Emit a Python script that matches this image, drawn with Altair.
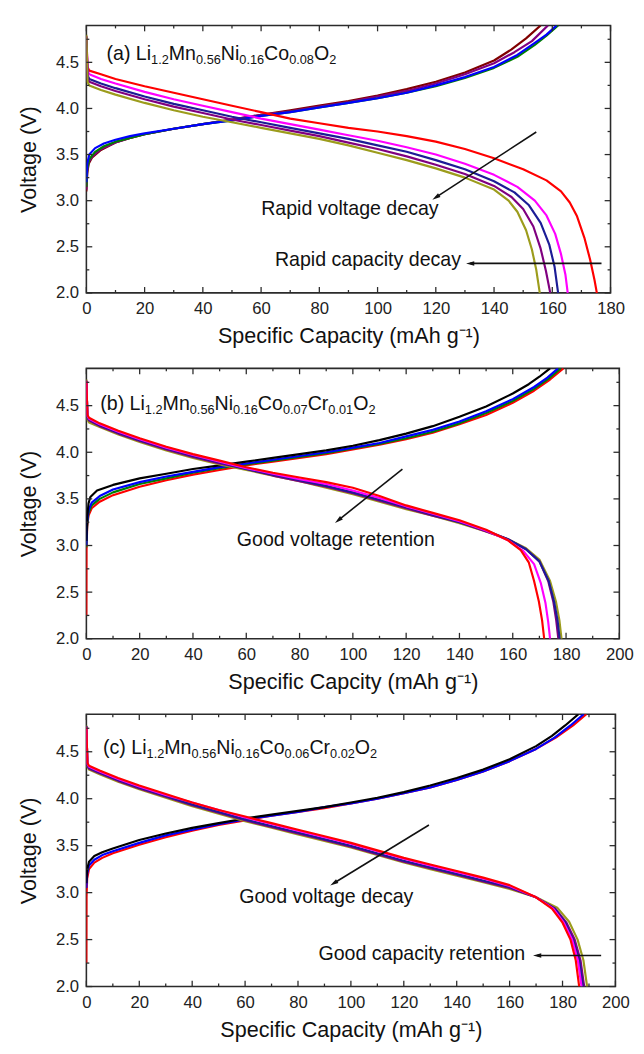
import math
import altair as alt
import pandas as pd

FONT = "Liberation Sans"
FRAME = "#2b2b2b"
INK = "#111111"
YMIN, YMAX = 2.0, 4.9
Y_MAJOR = [2.0, 2.5, 3.0, 3.5, 4.0, 4.5]
Y_MINOR = [2.25, 2.75, 3.25, 3.75, 4.25, 4.75]

RED = "#ff0000"
MAGENTA = "#ff00ff"
NAVY = "#1c1c96"
BLUE = "#0000ff"
PURPLE = "#800080"
OLIVE = "#9c9c1c"
GREEN = "#008000"
WINE = "#800000"
BLACK = "#000000"

# ---------------- panel (a) ----------------
a_x_major = [0, 20, 40, 60, 80, 100, 120, 140, 160, 180]
a_x_minor = [10, 30, 50, 70, 90, 110, 130, 150, 170]

a_d_red_q = [0, 0.4, 1, 5, 10, 20, 30, 40, 50, 60, 70, 80, 90, 100, 110, 120, 130, 140, 150, 158, 163, 166, 168.5, 171, 173, 174.5, 175.3]
a_d_red_v = [4.78, 4.45, 4.41, 4.37, 4.32, 4.24, 4.17, 4.10, 4.03, 3.96, 3.89, 3.84, 3.79, 3.75, 3.70, 3.64, 3.56, 3.46, 3.34, 3.22, 3.10, 2.98, 2.83, 2.60, 2.36, 2.14, 2.00]
a_d_mag_q = [0, 0.4, 1, 5, 10, 20, 30, 40, 50, 60, 70, 80, 90, 100, 110, 120, 130, 140, 148, 154, 158, 161, 163, 164.5, 165.3]
a_d_mag_v = [4.78, 4.41, 4.37, 4.32, 4.27, 4.18, 4.10, 4.03, 3.96, 3.89, 3.83, 3.77, 3.71, 3.65, 3.58, 3.50, 3.40, 3.28, 3.15, 3.00, 2.84, 2.64, 2.42, 2.20, 2.00]
a_d_navy_q = [0, 0.4, 1, 5, 10, 20, 30, 40, 50, 60, 70, 80, 90, 100, 110, 120, 130, 140, 147, 152, 156, 159, 160.8, 162]
a_d_navy_v = [4.78, 4.36, 4.32, 4.27, 4.22, 4.13, 4.05, 3.98, 3.91, 3.85, 3.79, 3.73, 3.67, 3.60, 3.53, 3.44, 3.34, 3.21, 3.09, 2.95, 2.76, 2.52, 2.28, 2.00]
a_d_purple_q = [0, 0.4, 1, 5, 10, 20, 30, 40, 50, 60, 70, 80, 90, 100, 110, 120, 130, 140, 146, 150, 153.5, 156, 157.8, 159.3]
a_d_purple_v = [4.78, 4.33, 4.29, 4.24, 4.19, 4.10, 4.02, 3.95, 3.88, 3.82, 3.76, 3.70, 3.63, 3.56, 3.48, 3.39, 3.29, 3.16, 3.04, 2.91, 2.72, 2.48, 2.24, 2.00]
a_d_olive_q = [0, 0.4, 1, 5, 10, 20, 30, 40, 50, 60, 70, 80, 90, 100, 110, 120, 130, 140, 145, 148, 151, 153, 154.5, 155.7]
a_d_olive_v = [4.80, 4.29, 4.25, 4.20, 4.15, 4.06, 3.98, 3.91, 3.85, 3.79, 3.73, 3.67, 3.60, 3.52, 3.44, 3.35, 3.25, 3.12, 3.00, 2.88, 2.68, 2.47, 2.25, 2.00]

a_c_wine_q = [0, 0.3, 0.8, 2, 5, 10, 15, 20, 30, 40, 50, 60, 70, 80, 90, 100, 110, 120, 130, 140, 146, 151, 156]
a_c_wine_v = [3.10, 3.30, 3.40, 3.47, 3.55, 3.63, 3.68, 3.72, 3.78, 3.83, 3.88, 3.93, 3.98, 4.03, 4.08, 4.14, 4.21, 4.29, 4.39, 4.52, 4.64, 4.76, 4.90]
a_c_purple_q = [0, 0.3, 0.8, 2, 5, 10, 15, 20, 30, 40, 50, 60, 70, 80, 90, 100, 110, 120, 130, 140, 147, 153, 158.5]
a_c_purple_v = [3.12, 3.32, 3.42, 3.48, 3.56, 3.63, 3.68, 3.72, 3.78, 3.83, 3.88, 3.93, 3.97, 4.02, 4.07, 4.13, 4.19, 4.27, 4.37, 4.49, 4.61, 4.73, 4.90]
a_c_green_q = [0, 0.3, 1, 3, 6, 10, 15, 20, 30, 40, 50, 60, 70, 80, 90, 100, 110, 120, 130, 140, 148, 154, 158, 162]
a_c_green_v = [3.15, 3.35, 3.45, 3.53, 3.59, 3.64, 3.68, 3.72, 3.78, 3.83, 3.87, 3.92, 3.96, 4.01, 4.06, 4.11, 4.17, 4.24, 4.33, 4.44, 4.56, 4.69, 4.79, 4.90]
a_c_blue_q = [0, 0.3, 1, 3, 6, 10, 15, 20, 30, 40, 50, 60, 70, 80, 90, 100, 110, 120, 130, 140, 148, 154, 158, 161.5]
a_c_blue_v = [3.20, 3.40, 3.50, 3.57, 3.62, 3.66, 3.70, 3.73, 3.78, 3.83, 3.87, 3.92, 3.96, 4.01, 4.06, 4.11, 4.17, 4.25, 4.34, 4.45, 4.58, 4.71, 4.80, 4.90]

a_label = ["(a) Li", "1.2", "Mn", "0.56", "Ni", "0.16", "Co", "0.08", "O", "2"]
a_text = ["Rapid voltage decay", "Rapid capacity decay"]
a_text_q = [90.5, 96.7]
a_text_v = [2.91, 2.36]
a_arrow_q1 = [154.5, 176.9]
a_arrow_v1 = [3.745, 2.32]
a_arrow_q2 = [120.0, 131.8]
a_arrow_v2 = [3.035, 2.32]

# ---------------- panel (b) ----------------
bc_x_major = [0, 20, 40, 60, 80, 100, 120, 140, 160, 180, 200]
bc_x_minor = [10, 30, 50, 70, 90, 110, 130, 150, 170, 190]

b_d_red_q = [0, 0.4, 1, 5, 12, 20, 30, 40, 50, 60, 70, 80, 90, 100, 110, 120, 130, 140, 150, 158, 163, 166, 168, 169.8, 171, 171.8]
b_d_red_v = [4.76, 4.40, 4.37, 4.31, 4.23, 4.15, 4.06, 3.98, 3.91, 3.84, 3.78, 3.73, 3.68, 3.62, 3.53, 3.43, 3.35, 3.27, 3.17, 3.06, 2.95, 2.82, 2.62, 2.40, 2.20, 2.00]
b_d_mag_q = [0, 0.4, 1, 5, 12, 20, 30, 40, 50, 60, 70, 80, 90, 100, 110, 120, 130, 140, 150, 158, 164, 168, 170.5, 172.3, 173.3, 174]
b_d_mag_v = [4.76, 4.39, 4.36, 4.30, 4.22, 4.14, 4.05, 3.97, 3.90, 3.83, 3.77, 3.71, 3.66, 3.59, 3.51, 3.42, 3.34, 3.26, 3.16, 3.06, 2.94, 2.80, 2.60, 2.38, 2.18, 2.00]
b_d_navy_q = [0, 0.4, 1, 5, 12, 20, 30, 40, 50, 60, 70, 80, 90, 100, 110, 120, 130, 140, 150, 158, 165, 170, 173.5, 175.5, 176.8, 177.6]
b_d_navy_v = [4.76, 4.38, 4.35, 4.29, 4.21, 4.13, 4.04, 3.96, 3.89, 3.82, 3.76, 3.70, 3.64, 3.57, 3.49, 3.41, 3.33, 3.25, 3.16, 3.07, 2.96, 2.83, 2.62, 2.40, 2.20, 2.00]
b_d_purple_q = [0, 0.4, 1, 5, 12, 20, 30, 40, 50, 60, 70, 80, 90, 100, 110, 120, 130, 140, 150, 158, 165, 170, 173.3, 175.2, 176.3, 177.1]
b_d_purple_v = [4.77, 4.37, 4.34, 4.28, 4.20, 4.12, 4.03, 3.95, 3.88, 3.82, 3.75, 3.69, 3.63, 3.56, 3.48, 3.40, 3.32, 3.25, 3.15, 3.07, 2.96, 2.83, 2.62, 2.40, 2.20, 2.00]
b_d_olive_q = [0, 0.4, 1, 5, 12, 20, 30, 40, 50, 60, 70, 80, 90, 100, 110, 120, 130, 140, 150, 158, 165, 170, 174, 176.2, 177.5, 178.3]
b_d_olive_v = [4.78, 4.35, 4.32, 4.27, 4.19, 4.11, 4.02, 3.94, 3.87, 3.81, 3.75, 3.69, 3.62, 3.55, 3.47, 3.39, 3.32, 3.24, 3.15, 3.07, 2.97, 2.85, 2.62, 2.40, 2.20, 2.00]

b_c_red_q = [0, 0.05, 0.3, 0.8, 2, 5, 10, 20, 30, 40, 50, 60, 70, 80, 90, 100, 110, 120, 130, 140, 150, 160, 168, 174, 179]
b_c_red_v = [2.25, 2.95, 3.20, 3.32, 3.40, 3.47, 3.54, 3.63, 3.70, 3.76, 3.81, 3.86, 3.90, 3.94, 3.98, 4.03, 4.08, 4.14, 4.21, 4.30, 4.40, 4.53, 4.66, 4.78, 4.90]
b_c_green_q = [0, 0.3, 0.8, 2, 5, 10, 20, 30, 40, 50, 60, 70, 80, 90, 100, 110, 120, 130, 140, 150, 160, 168, 173.5, 178]
b_c_green_v = [2.98, 3.22, 3.35, 3.43, 3.50, 3.57, 3.66, 3.72, 3.78, 3.83, 3.87, 3.91, 3.95, 3.99, 4.04, 4.09, 4.15, 4.22, 4.31, 4.42, 4.55, 4.68, 4.79, 4.90]
b_c_blue_q = [0, 0.3, 0.8, 2, 5, 10, 20, 30, 40, 50, 60, 70, 80, 90, 100, 110, 120, 130, 140, 150, 160, 168, 173, 177]
b_c_blue_v = [3.00, 3.25, 3.38, 3.46, 3.53, 3.60, 3.68, 3.74, 3.79, 3.84, 3.88, 3.92, 3.96, 4.00, 4.05, 4.10, 4.17, 4.24, 4.33, 4.44, 4.57, 4.70, 4.80, 4.90]
b_c_black_q = [0, 0.3, 0.8, 1.5, 4, 10, 20, 30, 40, 50, 60, 70, 80, 90, 100, 110, 120, 130, 140, 150, 160, 166, 170, 174]
b_c_black_v = [3.05, 3.30, 3.45, 3.52, 3.59, 3.65, 3.72, 3.77, 3.82, 3.86, 3.90, 3.94, 3.98, 4.02, 4.07, 4.13, 4.20, 4.28, 4.38, 4.49, 4.63, 4.73, 4.81, 4.90]

b_label = ["(b) Li", "1.2", "Mn", "0.56", "Ni", "0.16", "Co", "0.07", "Cr", "0.01", "O", "2"]
b_text = ["Good voltage retention"]
b_text_q = [93.6]
b_text_v = [3.06]
b_arrow_q1 = [118.6]
b_arrow_v1 = [3.82]
b_arrow_q2 = [94.5]
b_arrow_v2 = [3.27]

# ---------------- panel (c) ----------------
c_d_red_q = [0, 0.4, 1, 5, 12, 20, 30, 40, 50, 60, 70, 80, 90, 100, 110, 120, 130, 140, 150, 160, 170, 176, 180, 183, 185, 186.3]
c_d_red_v = [4.76, 4.38, 4.35, 4.30, 4.22, 4.14, 4.05, 3.96, 3.88, 3.81, 3.74, 3.67, 3.60, 3.53, 3.45, 3.37, 3.30, 3.23, 3.16, 3.08, 2.95, 2.83, 2.68, 2.50, 2.28, 2.00]
c_d_mag_q = [0, 0.4, 1, 5, 12, 20, 30, 40, 50, 60, 70, 80, 90, 100, 110, 120, 130, 140, 150, 160, 170, 176.5, 180.5, 183.6, 185.8, 187.2]
c_d_mag_v = [4.76, 4.37, 4.34, 4.29, 4.21, 4.13, 4.04, 3.96, 3.88, 3.80, 3.73, 3.66, 3.59, 3.52, 3.44, 3.36, 3.29, 3.22, 3.15, 3.07, 2.95, 2.83, 2.68, 2.50, 2.28, 2.00]
c_d_navy_q = [0, 0.4, 1, 5, 12, 20, 30, 40, 50, 60, 70, 80, 90, 100, 110, 120, 130, 140, 150, 160, 170, 177, 181, 184, 186.3, 187.7]
c_d_navy_v = [4.77, 4.36, 4.33, 4.28, 4.20, 4.12, 4.03, 3.94, 3.86, 3.78, 3.71, 3.64, 3.57, 3.50, 3.42, 3.34, 3.27, 3.20, 3.13, 3.06, 2.95, 2.83, 2.68, 2.50, 2.28, 2.00]
c_d_purple_q = [0, 0.4, 1, 5, 12, 20, 30, 40, 50, 60, 70, 80, 90, 100, 110, 120, 130, 140, 150, 160, 170, 177.3, 181.5, 184.6, 186.8, 188.2]
c_d_purple_v = [4.77, 4.35, 4.32, 4.27, 4.19, 4.11, 4.02, 3.93, 3.85, 3.77, 3.70, 3.63, 3.56, 3.49, 3.41, 3.33, 3.26, 3.19, 3.12, 3.05, 2.95, 2.83, 2.68, 2.50, 2.28, 2.00]
c_d_olive_q = [0, 0.4, 1, 5, 12, 20, 30, 40, 50, 60, 70, 80, 90, 100, 110, 120, 130, 140, 150, 160, 170, 178, 182.5, 185.7, 187.9, 189.3]
c_d_olive_v = [4.78, 4.34, 4.31, 4.26, 4.18, 4.10, 4.01, 3.92, 3.84, 3.76, 3.69, 3.62, 3.55, 3.48, 3.40, 3.32, 3.25, 3.18, 3.11, 3.04, 2.95, 2.84, 2.69, 2.50, 2.28, 2.00]

c_c_red_q = [0, 0.05, 0.3, 1, 3, 6, 10, 20, 30, 40, 50, 60, 70, 80, 90, 100, 110, 120, 130, 140, 150, 160, 170, 178, 184, 189]
c_c_red_v = [2.25, 2.95, 3.15, 3.25, 3.32, 3.37, 3.42, 3.51, 3.59, 3.66, 3.72, 3.77, 3.82, 3.86, 3.90, 3.95, 4.00, 4.06, 4.12, 4.20, 4.29, 4.40, 4.53, 4.66, 4.78, 4.90]
c_c_blue_q = [0, 0.3, 1, 3, 6, 10, 20, 30, 40, 50, 60, 70, 80, 90, 100, 110, 120, 130, 140, 150, 160, 170, 177, 183, 188]
c_c_blue_v = [3.05, 3.20, 3.29, 3.35, 3.40, 3.44, 3.53, 3.61, 3.67, 3.73, 3.78, 3.82, 3.86, 3.91, 3.95, 4.00, 4.06, 4.12, 4.20, 4.29, 4.40, 4.53, 4.65, 4.78, 4.90]
c_c_black_q = [0, 0.3, 1, 3, 6, 10, 20, 30, 40, 50, 60, 70, 80, 90, 100, 110, 120, 130, 140, 150, 160, 170, 176, 181, 186]
c_c_black_v = [3.10, 3.25, 3.33, 3.39, 3.43, 3.47, 3.56, 3.63, 3.69, 3.74, 3.79, 3.83, 3.87, 3.91, 3.96, 4.01, 4.07, 4.14, 4.22, 4.31, 4.42, 4.56, 4.67, 4.78, 4.90]

c_label = ["(c) Li", "1.2", "Mn", "0.56", "Ni", "0.16", "Co", "0.06", "Cr", "0.02", "O", "2"]
c_text = ["Good voltage decay", "Good capacity retention"]
c_text_q = [90.7, 126.8]
c_text_v = [2.95, 2.35]
c_arrow_q1 = [129.5, 194.6]
c_arrow_v1 = [3.72, 2.33]
c_arrow_q2 = [93.5, 170.4]
c_arrow_v2 = [3.10, 2.33]

PANELS = [
    dict(
        xmax=180, width=535, height=273, xmaj=a_x_major, xmin_t=a_x_minor,
        xtitle="Specific Capacity (mAh g⁻¹)",
        label=a_label, label_q=6.9, label_v=4.60,
        curves=[
            ("c_wine", WINE, a_c_wine_q, a_c_wine_v),
            ("c_purple", PURPLE, a_c_purple_q, a_c_purple_v),
            ("c_green", GREEN, a_c_green_q, a_c_green_v),
            ("c_blue", BLUE, a_c_blue_q, a_c_blue_v),
            ("d_red", RED, a_d_red_q, a_d_red_v),
            ("d_mag", MAGENTA, a_d_mag_q, a_d_mag_v),
            ("d_navy", NAVY, a_d_navy_q, a_d_navy_v),
            ("d_purple", PURPLE, a_d_purple_q, a_d_purple_v),
            ("d_olive", OLIVE, a_d_olive_q, a_d_olive_v),
        ],
        texts=(a_text, a_text_q, a_text_v),
        arrows=(a_arrow_q1, a_arrow_v1, a_arrow_q2, a_arrow_v2),
    ),
    dict(
        xmax=200, width=544, height=276, xmaj=bc_x_major, xmin_t=bc_x_minor,
        xtitle="Specific Capcity (mAh g⁻¹)",
        label=b_label, label_q=5.2, label_v=4.53,
        curves=[
            ("c_red", RED, b_c_red_q, b_c_red_v),
            ("c_green", GREEN, b_c_green_q, b_c_green_v),
            ("c_blue", BLUE, b_c_blue_q, b_c_blue_v),
            ("c_black", BLACK, b_c_black_q, b_c_black_v),
            ("d_olive", OLIVE, b_d_olive_q, b_d_olive_v),
            ("d_purple", PURPLE, b_d_purple_q, b_d_purple_v),
            ("d_navy", NAVY, b_d_navy_q, b_d_navy_v),
            ("d_mag", MAGENTA, b_d_mag_q, b_d_mag_v),
            ("d_red", RED, b_d_red_q, b_d_red_v),
        ],
        texts=(b_text, b_text_q, b_text_v),
        arrows=(b_arrow_q1, b_arrow_v1, b_arrow_q2, b_arrow_v2),
    ),
    dict(
        xmax=200, width=540, height=278, xmaj=bc_x_major, xmin_t=bc_x_minor,
        xtitle="Specific Capacity (mAh g⁻¹)",
        label=c_label, label_q=6.3, label_v=4.55,
        curves=[
            ("c_red", RED, c_c_red_q, c_c_red_v),
            ("c_blue", BLUE, c_c_blue_q, c_c_blue_v),
            ("c_black", BLACK, c_c_black_q, c_c_black_v),
            ("d_olive", OLIVE, c_d_olive_q, c_d_olive_v),
            ("d_purple", PURPLE, c_d_purple_q, c_d_purple_v),
            ("d_navy", NAVY, c_d_navy_q, c_d_navy_v),
            ("d_mag", MAGENTA, c_d_mag_q, c_d_mag_v),
            ("d_red", RED, c_d_red_q, c_d_red_v),
        ],
        texts=(c_text, c_text_q, c_text_v),
        arrows=(c_arrow_q1, c_arrow_v1, c_arrow_q2, c_arrow_v2),
    ),
]

ARROW_PATH = "M0,-1L0.55,1L-0.55,1Z"

# Arial / Liberation Sans advance widths (per 1000 em) for composing the formula labels
GLYPH_W = {"(": 333, ")": 333, " ": 278, ".": 278, "a": 556, "b": 556, "c": 500,
           "L": 556, "i": 222, "M": 833, "n": 556, "N": 722, "C": 722, "o": 556,
           "O": 778, "r": 333}
for _d in "0123456789":
    GLYPH_W[_d] = 556
BIG_FS = 20
SUB_FS = 13


def build_panel(p):
    xs = alt.Scale(domain=[0, p["xmax"]], nice=False, zero=False)
    ys = alt.Scale(domain=[YMIN, YMAX], nice=False, zero=False)
    xax = alt.Axis(values=p["xmaj"], format="d", ticks=False, domain=False, grid=False,
                   labelPadding=8, titlePadding=10, labelFlush=False, title=p["xtitle"])
    yax = alt.Axis(values=Y_MAJOR, format=".1f", ticks=False, domain=False, grid=False,
                   labelPadding=8, titlePadding=15, labelFlush=False, title="Voltage (V)")
    kx = p["width"] / p["xmax"]
    ky = p["height"] / (YMAX - YMIN)

    def X(f):
        return alt.X(f, scale=xs, axis=xax, title=p["xtitle"])

    def Y(f):
        return alt.Y(f, scale=ys, axis=yax, title="Voltage (V)")

    frames = []
    for name, col, q, v in p["curves"]:
        frames.append(pd.DataFrame({"curve": name, "col": col, "q": q, "v": v,
                                    "i": list(range(len(q)))}))
    df = pd.concat(frames, ignore_index=True)

    lines = alt.Chart(df).mark_line(strokeWidth=2.2, clip=True, strokeJoin="round").encode(
        x=X("q:Q"), y=Y("v:Q"),
        color=alt.Color("col:N", scale=None),
        detail="curve:N",
        order=alt.Order("i:Q"),
    )
    layers = [lines]

    # inward ticks on all four sides (Origin style)
    def xticks(vals, edge, length, off):
        d = pd.DataFrame({"t": vals, "e": [edge] * len(vals)})
        return alt.Chart(d).mark_tick(orient="vertical", size=length, thickness=1.3,
                                      yOffset=off, color=FRAME, opacity=1).encode(x=X("t:Q"), y=Y("e:Q"))

    def yticks(vals, edge, length, off):
        d = pd.DataFrame({"t": vals, "e": [edge] * len(vals)})
        return alt.Chart(d).mark_tick(orient="horizontal", size=length, thickness=1.3,
                                      xOffset=off, color=FRAME, opacity=1).encode(x=X("e:Q"), y=Y("t:Q"))

    layers += [
        xticks(p["xmaj"], YMIN, 6, -3), xticks(p["xmin_t"], YMIN, 3, -1.5),
        xticks(p["xmaj"], YMAX, 6, 3), xticks(p["xmin_t"], YMAX, 3, 1.5),
        yticks(Y_MAJOR, 0, 6, 3), yticks(Y_MINOR, 0, 3, 1.5),
        yticks(Y_MAJOR, p["xmax"], 6, -3), yticks(Y_MINOR, p["xmax"], 3, -1.5),
    ]

    # formula label composed of normal and subscript pieces
    base_v = p["label_v"] - 7.0 / ky
    sub_v = p["label_v"] - 11.5 / ky
    rows = []
    cursor = 0.0
    for k, seg in enumerate(p["label"]):
        is_sub = k % 2 == 1
        fs = SUB_FS if is_sub else BIG_FS
        rows.append({"t": seg, "q": p["label_q"] + cursor / kx,
                     "v": sub_v if is_sub else base_v, "fs": fs})
        cursor += sum(GLYPH_W[ch] for ch in seg) / 1000.0 * fs
    lab = pd.DataFrame(rows)
    layers.append(alt.Chart(lab).mark_text(font=FONT, align="left", baseline="alphabetic",
                                           color=INK).encode(
        x=X("q:Q"), y=Y("v:Q"), text="t:N", size=alt.Size("fs:Q", scale=None)))

    tt, tq, tv = p["texts"]
    td = pd.DataFrame({"t": tt, "q": tq, "v": tv})
    layers.append(alt.Chart(td).mark_text(font=FONT, fontSize=20, align="center", baseline="middle",
                                          color=INK).encode(x=X("q:Q"), y=Y("v:Q"), text="t:N"))

    q1, v1, q2, v2 = p["arrows"]
    angs = []
    for a1, b1, a2, b2 in zip(q1, v1, q2, v2):
        dx = (a2 - a1) * kx
        dy = -(b2 - b1) * ky
        angs.append(math.degrees(math.atan2(dx, -dy)) % 360)
    ad = pd.DataFrame({"q1": q1, "v1": v1, "q2": q2, "v2": v2, "ang": angs})
    layers.append(alt.Chart(ad).mark_rule(strokeWidth=1.6, color=INK).encode(
        x=X("q1:Q"), y=Y("v1:Q"), x2="q2:Q", y2="v2:Q"))
    layers.append(alt.Chart(ad).mark_point(shape=ARROW_PATH, filled=True, size=70, color=INK,
                                           opacity=1).encode(
        x=X("q2:Q"), y=Y("v2:Q"), angle=alt.Angle("ang:Q", scale=None)))

    return alt.layer(*layers).properties(width=p["width"], height=p["height"])


chart = alt.vconcat(*[build_panel(p) for p in PANELS], spacing=20).resolve_scale(
    x="independent", y="independent"
).properties(
    padding={"left": 9, "top": 6, "right": 2, "bottom": 0}
).configure_axis(
    labelFont=FONT, titleFont=FONT, labelFontSize=17, titleFontSize=22,
    labelColor="#222222", titleColor=INK, titleFontWeight="normal",
).configure_view(stroke=FRAME, strokeWidth=1.6)

chart.save("out.html", embed_options={"renderer": "svg", "actions": False})
